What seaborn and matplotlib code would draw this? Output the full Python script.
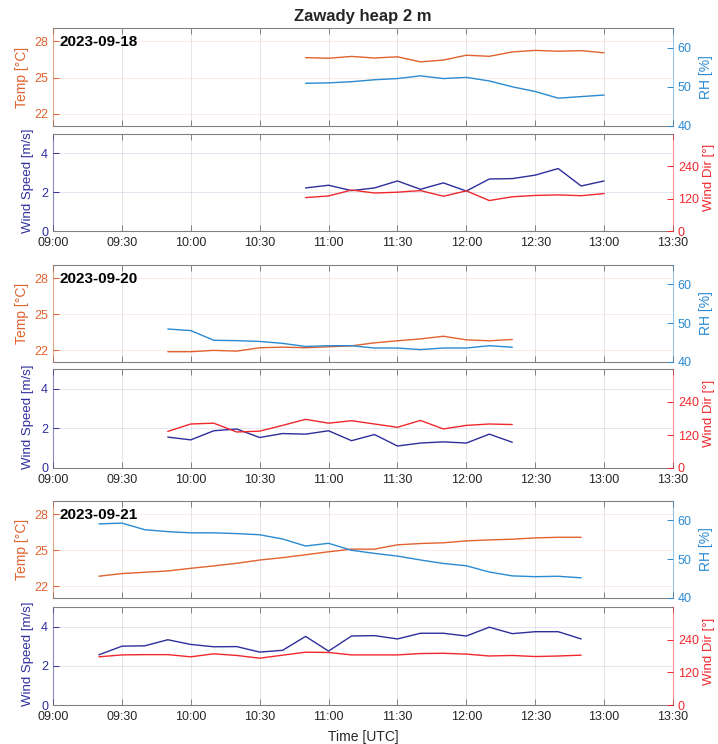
import matplotlib
matplotlib.use("Agg")
import matplotlib.pyplot as plt
import matplotlib.dates as mdates
import numpy as np
import pandas as pd
import seaborn as sns

# ---- data (10 min samples) ----
days = ["2023-09-18", "2023-09-20", "2023-09-21"]
starts = ["10:50", "09:50", "09:20"]

temp1 = [26.65, 26.6, 26.75, 26.62, 26.72, 26.3, 26.45, 26.85, 26.76, 27.12, 27.25, 27.18, 27.23, 27.05]
rh1 = [50.9, 51.0, 51.3, 51.8, 52.1, 52.8, 52.1, 52.4, 51.5, 50.0, 48.8, 47.1, 47.5, 47.9]
ws1 = [2.22, 2.36, 2.08, 2.22, 2.58, 2.15, 2.48, 2.06, 2.68, 2.7, 2.88, 3.22, 2.32, 2.58]
wd1 = [124, 130, 152, 141, 144, 150, 129, 149, 113, 127, 132, 134, 131, 139]

temp2 = [21.86, 21.86, 21.97, 21.91, 22.19, 22.24, 22.19, 22.27, 22.35, 22.6, 22.77, 22.93, 23.15, 22.85, 22.77, 22.88]
rh2 = [48.5, 48.1, 45.6, 45.5, 45.3, 44.8, 44.0, 44.2, 44.2, 43.6, 43.6, 43.2, 43.6, 43.6, 44.2, 43.8]
ws2 = [1.56, 1.42, 1.88, 1.97, 1.54, 1.74, 1.71, 1.88, 1.38, 1.69, 1.11, 1.26, 1.32, 1.26, 1.71, 1.30]
wd2 = [133, 160, 163, 131, 134, 155, 177, 163, 172, 160, 148, 173, 142, 155, 160, 158]

temp3 = [22.82, 23.04, 23.15, 23.26, 23.48, 23.68, 23.9, 24.17, 24.37, 24.61, 24.86, 25.08, 25.08,
         25.44, 25.55, 25.61, 25.77, 25.85, 25.91, 26.02, 26.07, 26.07]
rh3 = [59.1, 59.3, 57.6, 57.1, 56.8, 56.8, 56.6, 56.3, 55.2, 53.4, 54.1, 52.3, 51.5, 50.8, 49.8,
       48.9, 48.3, 46.7, 45.7, 45.5, 45.6, 45.2]
ws3 = [2.56, 3.0, 3.02, 3.33, 3.09, 2.97, 2.98, 2.70, 2.79, 3.50, 2.75, 3.52, 3.54, 3.37, 3.66,
       3.66, 3.52, 3.97, 3.64, 3.74, 3.74, 3.37]
wd3 = [177, 184, 185, 185, 177, 188, 182, 172, 183, 194, 193, 184, 184, 184, 189, 190, 187, 180,
       182, 178, 180, 183]

temps = [temp1, temp2, temp3]
rhs = [rh1, rh2, rh3]
wss = [ws1, ws2, ws3]
wds = [wd1, wd2, wd3]

c_temp = "#E0622F"
c_rh = "#2A8AD2"
c_ws = "#2E2E9C"
c_wd = "#F0282D"
c_frame = "#808080"

sns.set_style("white")
plt.rcParams["font.family"] = ["Liberation Sans", "DejaVu Sans"]
plt.rcParams["axes.linewidth"] = 0.8

fig = plt.figure(figsize=(7.18, 7.44), dpi=100)

W, H = 718, 744
x0, x1 = 53, 673
# pixel extents (top, bottom) of each axes
boxes = [((28, 126), (134, 231)), ((265, 362), (369, 468)), ((501, 598), (607, 705))]


def make_ax(top, bot):
    return fig.add_axes([x0 / W, 1 - bot / H, (x1 - x0) / W, (bot - top) / H])


def style_pair(ax, ax2, c_left, c_right, show_xlabels):
    for s in ["top", "bottom"]:
        ax.spines[s].set_color(c_frame)
    ax.spines["left"].set_color(c_left)
    ax.spines["left"].set_alpha(0.5)
    ax.spines["right"].set_visible(False)
    for s in ["top", "bottom", "left"]:
        ax2.spines[s].set_visible(False)
    ax2.spines["right"].set_color(c_right)
    ax2.spines["right"].set_alpha(0.5)
    ax.xaxis.set_major_locator(mdates.MinuteLocator(byminute=[0, 30]))
    ax.xaxis.set_major_formatter(mdates.DateFormatter("%H:%M"))
    ax.tick_params(axis="x", which="both", direction="in", top=True, bottom=True,
                   length=4, width=0.7, color=c_frame, labelsize=9, labelcolor="#262626",
                   labelbottom=show_xlabels, pad=4)
    ax.tick_params(axis="y", direction="in", length=4, width=0.7, colors=c_left, labelsize=9)
    ax2.tick_params(axis="y", direction="in", length=4, width=0.7, colors=c_right, labelsize=9)
    ax.grid(True, axis="x", color="#e6e6e6", lw=0.7)
    ax.grid(True, axis="y", color=c_left, alpha=0.12, lw=0.7)
    ax.set_xlabel("")


for i, day in enumerate(days):
    times = pd.date_range(f"{day} {starts[i]}", periods=len(temps[i]), freq="10min")
    df = pd.DataFrame({"time": times, "temp": temps[i], "rh": rhs[i],
                       "ws": wss[i], "wd": wds[i]})
    xlim = (pd.Timestamp(f"{day} 09:00"), pd.Timestamp(f"{day} 13:30"))

    (tt, tb), (wt, wb) = boxes[i]

    # temperature / RH
    ax = make_ax(tt, tb)
    ax2 = ax.twinx()
    sns.lineplot(data=df, x="time", y="temp", ax=ax, color=c_temp, lw=1.0)
    sns.lineplot(data=df, x="time", y="rh", ax=ax2, color=c_rh, lw=1.0)
    ax.set_xlim(*xlim)
    ax.set_ylim(21, 29.1)
    ax.set_yticks([22, 25, 28])
    ax2.set_ylim(40, 65)
    ax2.set_yticks([40, 50, 60])
    style_pair(ax, ax2, c_temp, c_rh, False)
    ax.set_ylabel("Temp [°C]", color=c_temp, fontsize=10)
    ax2.set_ylabel("RH [%]", color=c_rh, fontsize=10)
    ax.yaxis.set_label_coords(-0.038, 0.5)
    ax2.yaxis.set_label_coords(1.042, 0.5)
    ax.text(0.011, 0.86, day, transform=ax.transAxes, fontsize=11,
            fontweight="bold", va="center", ha="left", color="black")

    # wind speed / direction
    bx = make_ax(wt, wb)
    bx2 = bx.twinx()
    sns.lineplot(data=df, x="time", y="ws", ax=bx, color=c_ws, lw=1.0)
    sns.lineplot(data=df, x="time", y="wd", ax=bx2, color=c_wd, lw=1.0)
    bx.set_xlim(*xlim)
    bx.set_ylim(0, 5)
    bx.set_yticks([0, 2, 4])
    bx2.set_ylim(0, 360)
    bx2.set_yticks([0, 120, 240])
    style_pair(bx, bx2, c_ws, c_wd, True)
    bx.set_ylabel("Wind Speed [m/s]", color=c_ws, fontsize=9.5)
    bx2.set_ylabel("Wind Dir [°]", color=c_wd, fontsize=9.5)
    bx.yaxis.set_label_coords(-0.031, 0.52)
    bx2.yaxis.set_label_coords(1.048, 0.55)

fig.text((x0 + x1) / 2 / W, 1 - 16 / H, "Zawady heap 2 m", ha="center", va="center",
         fontsize=12, fontweight="bold")
fig.text((x0 + x1) / 2 / W, 1 - 737 / H, "Time [UTC]", ha="center", va="center",
         fontsize=10, color="#262626")

fig.savefig("out.png", dpi=100)
